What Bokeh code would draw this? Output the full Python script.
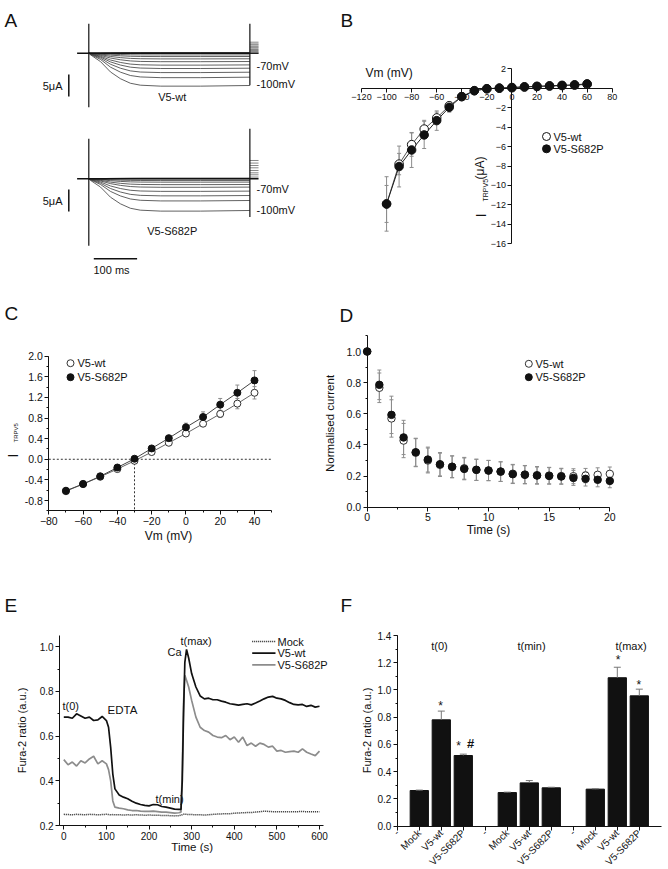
import math
from bokeh.plotting import figure
from bokeh.models import Range1d, Label, SingleIntervalTicker, FixedTicker, PrintfTickFormatter
from bokeh.layouts import column, row
from bokeh.embed import file_html
from bokeh.resources import INLINE

FONT = "Liberation Sans"
INK = "#111111"
GREY = "#8c8c8c"

# ======================= DATA =======================
# --- A: current traces (uA, relative to holding level) ---
a_shape_t = [0, 4, 27, 50, 73, 96, 119, 166, 258, 372]          # ms
a_shape_frac = [0, 0.05, 0.26, 0.58, 0.79, 0.93, 0.99, 1.02, 1.02, 1.0]
a_wt_ss = [0.15, 0.08, 0.0, -0.39, -0.75, -1.27, -1.89, -2.66, -3.41, -4.32, -5.45, -7.34]
a_mut_ss = [0.15, 0.08, 0.0, -0.39, -0.75, -1.3, -1.89, -2.8, -3.8, -4.93, -7.2]
a_wt_tail = [2.5, 2.11, 1.89, 1.59, 1.36, 1.14, 0.84, 0.61, 0.39, 0.07]
a_mut_tail = [4.16, 3.57, 3.02, 2.5, 1.89, 1.36, 0.91, 0.39]
a_wt_spike_on = [6.7, -12.3]
a_wt_spike_off = [6.7, -7.3]
a_mut_spike_on = [9.1, -15.2]
a_mut_spike_off = [11.4, -8.7]
a_pulse_ms = 372
a_pre_ms = -27
a_tail_ms = 20
a_scale_uA = 5
a_scale_ms = 100

# --- B: I-V relation ---
b_vm = [-100, -90, -80, -70, -60, -50, -40, -30, -20, -10, 0, 10, 20, 30, 40, 50, 60]
b_wt = [-11.9, -7.8, -5.8, -4.2, -3.05, -1.8, -0.86, -0.25, -0.05, 0.0, 0.05, 0.12, 0.18, 0.22, 0.27, 0.32, 0.4]
b_mut = [-11.9, -8.05, -6.35, -4.8, -3.33, -1.96, -0.86, -0.25, -0.05, 0.02, 0.08, 0.15, 0.2, 0.25, 0.3, 0.35, 0.45]
b_wt_err = [1.9, 1.1, 1.2, 0.9, 0.6, 0.4, 0.25, 0.1, 0.05, 0.05, 0.05, 0.05, 0.05, 0.05, 0.06, 0.06, 0.06]
b_mut_err = [2.8, 2.1, 1.8, 1.4, 1.0, 0.5, 0.3, 0.1, 0.05, 0.05, 0.05, 0.05, 0.05, 0.06, 0.07, 0.08, 0.1]

# --- C: I-V (ramp) ---
c_vm = [-70, -60, -50, -40, -30, -20, -10, 0, 10, 20, 30, 40]
c_wt = [-0.62, -0.48, -0.34, -0.19, -0.03, 0.14, 0.32, 0.50, 0.69, 0.88, 1.08, 1.29]
c_mut = [-0.61, -0.48, -0.33, -0.16, 0.01, 0.21, 0.41, 0.62, 0.82, 1.06, 1.29, 1.53]
c_wt_err = [0.02, 0.02, 0.02, 0.02, 0.02, 0.03, 0.03, 0.04, 0.05, 0.07, 0.1, 0.12]
c_mut_err = [0.02, 0.02, 0.02, 0.02, 0.02, 0.03, 0.04, 0.08, 0.1, 0.12, 0.15, 0.19]
c_erev = -30

# --- D: normalised current vs time ---
d_t = [0, 1, 2, 3, 4, 5, 6, 7, 8, 9, 10, 11, 12, 13, 14, 15, 16, 17, 18, 19, 20]
d_wt = [1.0, 0.767, 0.57, 0.428, 0.35, 0.30, 0.272, 0.26, 0.25, 0.24, 0.235, 0.228, 0.215, 0.21, 0.206, 0.203, 0.2, 0.199, 0.203, 0.208, 0.214]
d_mut = [1.0, 0.786, 0.593, 0.448, 0.353, 0.306, 0.276, 0.259, 0.246, 0.240, 0.236, 0.229, 0.212, 0.208, 0.203, 0.201, 0.197, 0.188, 0.182, 0.176, 0.169]
d_err = [0.0, 0.095, 0.12, 0.11, 0.09, 0.08, 0.075, 0.07, 0.07, 0.068, 0.065, 0.063, 0.06, 0.058, 0.055, 0.053, 0.05, 0.048, 0.046, 0.045, 0.044]

# --- E: Fura-2 time course ---
e_time = [0, 10, 20, 30, 40, 50, 60, 70, 80, 90, 100, 105, 110, 115, 120,
          130, 140, 150, 160, 170, 180, 190, 200, 210, 220, 230, 240, 250, 260, 270,
          275, 278, 281, 284, 288, 293,
          300, 310, 320, 330, 340, 350, 360, 370, 380, 390, 400, 410, 420, 430, 440,
          450, 460, 470, 480, 490, 500, 510, 520, 530, 540, 550, 560, 570, 580, 590, 600]
e_wt = [0.685, 0.685, 0.680, 0.700, 0.690, 0.680, 0.685, 0.670, 0.673, 0.688, 0.670,
        0.640, 0.550, 0.430, 0.364,
        0.337, 0.327, 0.320, 0.309, 0.300, 0.294, 0.290, 0.288, 0.294, 0.293, 0.285, 0.282, 0.278, 0.273, 0.272,
        0.272, 0.400, 0.700, 0.930, 0.988, 0.950,
        0.880, 0.820, 0.780, 0.767, 0.770, 0.763, 0.763, 0.757, 0.752, 0.745, 0.742, 0.739, 0.742, 0.745, 0.740,
        0.748, 0.757, 0.767, 0.775, 0.778, 0.770, 0.767, 0.760, 0.750, 0.742, 0.740, 0.742, 0.733, 0.738, 0.730, 0.734]
e_mut = [0.495, 0.472, 0.484, 0.466, 0.490, 0.480, 0.498, 0.510, 0.476, 0.490, 0.476,
         0.450, 0.400, 0.310, 0.282,
         0.278, 0.275, 0.270, 0.267, 0.267, 0.264, 0.263, 0.263, 0.264, 0.262, 0.260, 0.260, 0.258, 0.255, 0.257,
         0.260, 0.450, 0.750, 0.872, 0.850, 0.820,
         0.760, 0.685, 0.640, 0.625, 0.618, 0.603, 0.596, 0.593, 0.603, 0.584, 0.596, 0.573, 0.596, 0.558, 0.569,
         0.555, 0.569, 0.563, 0.551, 0.555, 0.533, 0.536, 0.528, 0.531, 0.533, 0.528, 0.543, 0.528, 0.520, 0.513, 0.533]
e_mock = [0.250, 0.249, 0.248, 0.250, 0.249, 0.248, 0.250, 0.249, 0.248, 0.249, 0.250,
          0.249, 0.248, 0.249, 0.248,
          0.248, 0.247, 0.248, 0.247, 0.248, 0.247, 0.246, 0.247, 0.246, 0.246, 0.245, 0.245, 0.244, 0.243, 0.244,
          0.246, 0.248, 0.250, 0.250, 0.250, 0.249,
          0.249, 0.248, 0.248, 0.247, 0.248, 0.250, 0.251, 0.252, 0.253, 0.253, 0.255, 0.256, 0.257, 0.258, 0.258,
          0.260, 0.262, 0.264, 0.263, 0.262, 0.262, 0.261, 0.262, 0.261, 0.262, 0.262, 0.263, 0.261, 0.262, 0.262, 0.262]

# --- F: Fura-2 ratio bars ---
f_labels = ["-", "Mock", "V5-wt", "V5-S682P", "-", "Mock", "V5-wt", "V5-S682P", "-", "Mock", "V5-wt", "V5-S682P"]
f_vals = [0.262, 0.781, 0.519, 0.247, 0.318, 0.282, 0.272, 1.09, 0.957]
f_err = [0.003, 0.064, 0.01, 0.003, 0.017, 0.004, 0.003, 0.077, 0.049]
f_groups = ["t(0)", "t(min)", "t(max)"]


# ======================= HELPERS =======================
class Panel:
    def __init__(self, L, T, W, H, xref, yref):
        self.L, self.T, self.W, self.H = L, T, W, H
        p1, v1, p2, v2 = xref
        self.xp, self.xv, self.sx = p1, v1, (p2 - p1) / (v2 - v1)
        p1, v1, p2, v2 = yref
        self.yp, self.yv, self.sy = p1, v1, (p2 - p1) / (v2 - v1)

    def X(self, px):
        return self.xv + (px - self.xp) / self.sx

    def Y(self, py):
        return self.yv + (py - self.yp) / self.sy

    def fig(self, axes=True):
        kw = dict(width=self.W, height=self.H,
                  x_range=Range1d(self.X(self.L), self.X(self.L + self.W)),
                  y_range=Range1d(self.Y(self.T + self.H), self.Y(self.T)),
                  output_backend="svg", toolbar_location=None, tools="",
                  title=None, min_border=0)
        if not axes:
            kw.update(x_axis_type=None, y_axis_type=None)
        p = figure(**kw)
        p.outline_line_color = None
        p.background_fill_color = "white"
        p.border_fill_color = "white"
        for g in p.grid:
            g.visible = False
        return p


def axis(ax, loc, bounds, ticker, fmt=None, size=10, overrides=None, orient=None, standoff=2):
    ax.fixed_location = loc
    ax.bounds = bounds
    ax.ticker = ticker
    if fmt:
        ax.formatter = PrintfTickFormatter(format=fmt)
    ax.axis_line_color = INK
    ax.axis_line_width = 1
    ax.major_tick_line_color = INK
    ax.minor_tick_line_color = INK
    ax.major_tick_in = 0
    ax.major_tick_out = 4
    ax.minor_tick_in = 0
    ax.minor_tick_out = 2
    ax.major_label_text_font = FONT
    ax.major_label_text_font_size = f"{size}px"
    ax.major_label_text_color = INK
    ax.major_label_standoff = standoff
    if overrides is not None:
        ax.major_label_overrides = overrides
    if orient is not None:
        ax.major_label_orientation = orient


def txt(p, x, y, s, size=11, align="left", baseline="middle", angle=0.0, style="normal"):
    p.add_layout(Label(x=x, y=y, text=s, text_font=FONT, text_font_size=f"{size}px",
                       text_align=align, text_baseline=baseline, angle=angle,
                       text_color=INK, text_font_style=style))


def errbars(p, xs, ys, errs, color=GREY, cap=5, up=True, down=True):
    x0, y0, y1, caps_x, caps_y = [], [], [], [], []
    for x, y, e in zip(xs, ys, errs):
        if e <= 0:
            continue
        lo = y - e if down else y
        hi = y + e if up else y
        x0.append(x); y0.append(lo); y1.append(hi)
        if up:
            caps_x.append(x); caps_y.append(hi)
        if down:
            caps_x.append(x); caps_y.append(lo)
    p.segment(x0=x0, y0=y0, x1=x0, y1=y1, line_color=color, line_width=1)
    p.scatter(caps_x, caps_y, marker="dash", size=cap, line_color=color, line_width=1)


ROT = math.pi / 2
EPS = 1e-6

# ======================= PANEL A =======================
PA = Panel(0, 0, 330, 290, (88.3, 0, 131.6, 100), (52.7, 0, 96.7, -10))
pa = PA.fig(axes=False)
base_wt = 0.0
base_mut = PA.Y(178.3)
for base, ss, tails, on, off in ((base_wt, a_wt_ss, a_wt_tail, a_wt_spike_on, a_wt_spike_off),
                                 (base_mut, a_mut_ss, a_mut_tail, a_mut_spike_on, a_mut_spike_off)):
    xs = [list(a_shape_t) for _ in ss]
    ys = [[base + v * f for f in a_shape_frac] for v in ss]
    pa.multi_line(xs, ys, line_color="#3a3a3a", line_width=0.8)
    pa.line([a_pre_ms, a_pulse_ms + a_tail_ms], [base, base], line_color=INK, line_width=1.6)
    tx = [[a_pulse_ms, a_pulse_ms + a_tail_ms] for _ in tails]
    ty = [[base + v, base + v] for v in tails]
    pa.multi_line(tx, ty, line_color="#555555", line_width=0.7)
    pa.segment(x0=[0, a_pulse_ms], y0=[base + on[0], base + off[0]],
               x1=[0, a_pulse_ms], y1=[base + on[1], base + off[1]],
               line_color=INK, line_width=1.2)

# scale bars
for yc in (PA.Y(85), PA.Y(200)):
    pa.line([PA.X(68.3)] * 2, [yc + a_scale_uA / 2, yc - a_scale_uA / 2], line_color=INK, line_width=1.5)
    txt(pa, PA.X(62), yc, "5μA", size=11, align="right")
pa.line([PA.X(93.3), PA.X(93.3) + a_scale_ms], [PA.Y(258.3)] * 2, line_color=INK, line_width=1.5)
txt(pa, PA.X(93), PA.Y(269.5), "100 ms", size=11)
txt(pa, PA.X(256), PA.Y(65), "-70mV", size=11)
txt(pa, PA.X(256), PA.Y(83), "-100mV", size=11)
txt(pa, PA.X(256), PA.Y(188), "-70mV", size=11)
txt(pa, PA.X(256), PA.Y(209.5), "-100mV", size=11)
txt(pa, PA.X(171.7), PA.Y(96.7), "V5-wt", size=11, align="center")
txt(pa, PA.X(171.7), PA.Y(230), "V5-S682P", size=11, align="center")
txt(pa, PA.X(4), PA.Y(19.5), "A", size=19, baseline="alphabetic")

# ======================= PANEL B =======================
PB = Panel(330, 0, 338, 290, (361, -120, 611.7, 80), (68.3, 2, 243.3, -16))
pb = PB.fig()
axis(pb.xaxis[0], 0, (-120, 80), SingleIntervalTicker(interval=20, num_minor_ticks=0), size=9)
axis(pb.yaxis[0], 0, (-16, 2), SingleIntervalTicker(interval=2, num_minor_ticks=0), size=9,
     overrides={0: ""})
pb.line(b_vm, b_wt, line_color="#555555", line_width=1)
pb.line(b_vm, b_mut, line_color="#222222", line_width=1)
errbars(pb, b_vm, b_wt, b_wt_err, cap=4)
errbars(pb, b_vm, b_mut, b_mut_err, cap=4)
pb.scatter(b_vm, b_wt, marker="circle", size=8.5, fill_color="white", line_color=INK, line_width=1)
pb.scatter(b_vm, b_mut, marker="circle", size=8.5, fill_color=INK, line_color=INK)
pb.scatter([PB.X(546)], [PB.Y(136)], marker="circle", size=8, fill_color="white", line_color=INK)
pb.scatter([PB.X(546)], [PB.Y(148.3)], marker="circle", size=8, fill_color=INK, line_color=INK)
txt(pb, PB.X(553), PB.Y(136), "V5-wt", size=11)
txt(pb, PB.X(553), PB.Y(148.3), "V5-S682P", size=11)
txt(pb, PB.X(365), PB.Y(72.3), "Vm (mV)", size=12)
txt(pb, PB.X(480), PB.Y(217), "I", size=15, baseline="alphabetic", angle=ROT)
txt(pb, PB.X(484.5), PB.Y(201), "TRPV5", size=7, baseline="alphabetic", angle=ROT)
txt(pb, PB.X(479), PB.Y(179), "(μA)", size=12, baseline="alphabetic", angle=ROT)
txt(pb, PB.X(340), PB.Y(19.5), "B", size=19, baseline="alphabetic")

# ======================= PANEL C =======================
PC = Panel(0, 290, 318, 290, (48.3, -80, 254, 40), (355.7, 2.0, 500, -0.8))
pc = PC.fig()
axis(pc.xaxis[0], -1.0, (-80, 50), SingleIntervalTicker(interval=20, num_minor_ticks=2), size=10.5)
axis(pc.yaxis[0], -80, (-1.0, 2.0 + EPS), SingleIntervalTicker(interval=0.4, num_minor_ticks=2),
     fmt="%.1f", size=10.5)
pc.line([-80, 50], [0, 0], line_color="#333333", line_width=1, line_dash="2 2")
pc.line([c_erev, c_erev], [0, -1.0], line_color="#333333", line_width=1, line_dash="2 2")
pc.line(c_vm, c_wt, line_color="#666666", line_width=1)
pc.line(c_vm, c_mut, line_color="#444444", line_width=1)
errbars(pc, c_vm, c_wt, c_wt_err, cap=4)
errbars(pc, c_vm, c_mut, c_mut_err, cap=4)
pc.scatter(c_vm, c_wt, marker="circle", size=7, fill_color="white", line_color="#333333", line_width=1)
pc.scatter(c_vm, c_mut, marker="circle", size=7, fill_color=INK, line_color=INK)
pc.scatter([PC.X(70)], [PC.Y(362.7)], marker="circle", size=7, fill_color="white", line_color="#333333")
pc.scatter([PC.X(70)], [PC.Y(376.7)], marker="circle", size=7, fill_color=INK, line_color=INK)
txt(pc, PC.X(77), PC.Y(362.7), "V5-wt", size=11)
txt(pc, PC.X(77), PC.Y(376.7), "V5-S682P", size=11)
txt(pc, PC.X(168), PC.Y(535), "Vm (mV)", size=12, align="center")
txt(pc, PC.X(12.5), PC.Y(457), "I", size=14, baseline="alphabetic", angle=ROT)
txt(pc, PC.X(15.5), PC.Y(442), "TRPV5", size=6, baseline="alphabetic", angle=ROT)
txt(pc, PC.X(4), PC.Y(313), "C", size=19, baseline="alphabetic")

# ======================= PANEL D =======================
PD = Panel(318, 290, 350, 290, (366.7, 0, 609.3, 20), (506.7, 0, 351, 1.0))
pd = PD.fig()
axis(pd.xaxis[0], 0, (0, 20), SingleIntervalTicker(interval=5, num_minor_ticks=2), size=10.5)
axis(pd.yaxis[0], 0, (0, 1.1), SingleIntervalTicker(interval=0.2, num_minor_ticks=2),
     fmt="%.1f", size=10.5)
errbars(pd, d_t, d_wt, d_err, cap=4)
errbars(pd, d_t, d_mut, d_err, cap=4)
pd.scatter(d_t, d_wt, marker="circle", size=7.5, fill_color="white", line_color="#333333", line_width=1)
pd.scatter(d_t, d_mut, marker="circle", size=7.5, fill_color=INK, line_color=INK)
pd.scatter([PD.X(528.3)], [PD.Y(363.3)], marker="circle", size=7, fill_color="white", line_color="#333333")
pd.scatter([PD.X(528.3)], [PD.Y(376.7)], marker="circle", size=7, fill_color=INK, line_color=INK)
txt(pd, PD.X(535), PD.Y(363.3), "V5-wt", size=11)
txt(pd, PD.X(535), PD.Y(376.7), "V5-S682P", size=11)
txt(pd, PD.X(488), PD.Y(529.3), "Time (s)", size=12, align="center")
txt(pd, PD.X(329), PD.Y(423), "Normalised current", size=11.5, align="center", angle=ROT)
txt(pd, PD.X(339), PD.Y(314.5), "D", size=19, baseline="alphabetic")

# ======================= PANEL E =======================
PE = Panel(0, 580, 330, 288, (63.3, 0, 319, 600), (825, 0.2, 646.3, 1.0))
pe = PE.fig()
axis(pe.xaxis[0], 0.2, (-10, 610), SingleIntervalTicker(interval=100, num_minor_ticks=2), size=10)
axis(pe.yaxis[0], -10, (0.2, 1.05), SingleIntervalTicker(interval=0.2, num_minor_ticks=2),
     fmt="%.1f", size=10)
pe.line(e_time, e_mock, line_color="#222222", line_width=1.5, line_dash="1 1")
pe.line(e_time, e_mut, line_color=GREY, line_width=1.7)
pe.line(e_time, e_wt, line_color=INK, line_width=1.7)
lx = [PE.X(251.7), PE.X(275)]
pe.line(lx, [PE.Y(641)] * 2, line_color="#222222", line_width=1.5, line_dash="1 1")
pe.line(lx, [PE.Y(652.7)] * 2, line_color=INK, line_width=1.7)
pe.line(lx, [PE.Y(664.3)] * 2, line_color=GREY, line_width=1.7)
txt(pe, PE.X(277), PE.Y(641), "Mock", size=11)
txt(pe, PE.X(277), PE.Y(652.7), "V5-wt", size=11)
txt(pe, PE.X(277), PE.Y(664.3), "V5-S682P", size=11)
txt(pe, PE.X(62), PE.Y(705), "t(0)", size=11)
txt(pe, PE.X(107), PE.Y(709), "EDTA", size=11.5)
txt(pe, PE.X(155), PE.Y(798), "t(min)", size=11)
txt(pe, PE.X(167), PE.Y(651.7), "Ca", size=11)
txt(pe, PE.X(180), PE.Y(640), "t(max)", size=11)
txt(pe, PE.X(191.7), PE.Y(846.7), "Time (s)", size=11.5, align="center")
txt(pe, PE.X(21.7), PE.Y(730), "Fura-2 ratio (a.u.)", size=11, align="center", angle=ROT)
txt(pe, PE.X(4), PE.Y(605), "E", size=19, baseline="alphabetic")

# ======================= PANEL F =======================
PF = Panel(330, 580, 338, 288, (396.8, 0, 660.8, 12), (825.7, 0, 635, 1.4))
pf = PF.fig()
f_ticks = list(range(len(f_labels)))
axis(pf.xaxis[0], 0, (0, len(f_labels)), FixedTicker(ticks=f_ticks), size=10,
     overrides={i: s for i, s in enumerate(f_labels)}, orient=math.pi / 4, standoff=1)
axis(pf.yaxis[0], 0, (0, 1.4 + EPS), SingleIntervalTicker(interval=0.2, num_minor_ticks=2),
     fmt="%.1f", size=10)
f_pos = [i for i, s in enumerate(f_labels) if s != "-"]
pf.vbar(x=f_pos, top=f_vals, width=0.83, bottom=0, fill_color=INK, line_color=INK)
errbars(pf, f_pos, f_vals, f_err, color="#777777", cap=7, down=False)
txt(pf, PF.X(439), PF.Y(645), f_groups[0], size=11, align="center")
txt(pf, PF.X(531), PF.Y(645), f_groups[1], size=11, align="center")
txt(pf, PF.X(630.5), PF.Y(645), f_groups[2], size=11, align="center")
txt(pf, PF.X(440), PF.Y(705), "*", size=12, align="center")
txt(pf, PF.X(458), PF.Y(745), "*", size=12, align="center")
txt(pf, PF.X(470), PF.Y(743), "#", size=13, align="center", style="bold")
txt(pf, PF.X(617.7), PF.Y(659), "*", size=12, align="center")
txt(pf, PF.X(638.3), PF.Y(684.5), "*", size=12, align="center")
txt(pf, PF.X(366), PF.Y(730), "Fura-2 ratio (a.u.)", size=11, align="center", angle=ROT)
txt(pf, PF.X(340), PF.Y(605), "F", size=19, baseline="alphabetic")

layout = column(row(pa, pb), row(pc, pd), row(pe, pf))
open("out.html", "w").write(file_html(layout, INLINE))
